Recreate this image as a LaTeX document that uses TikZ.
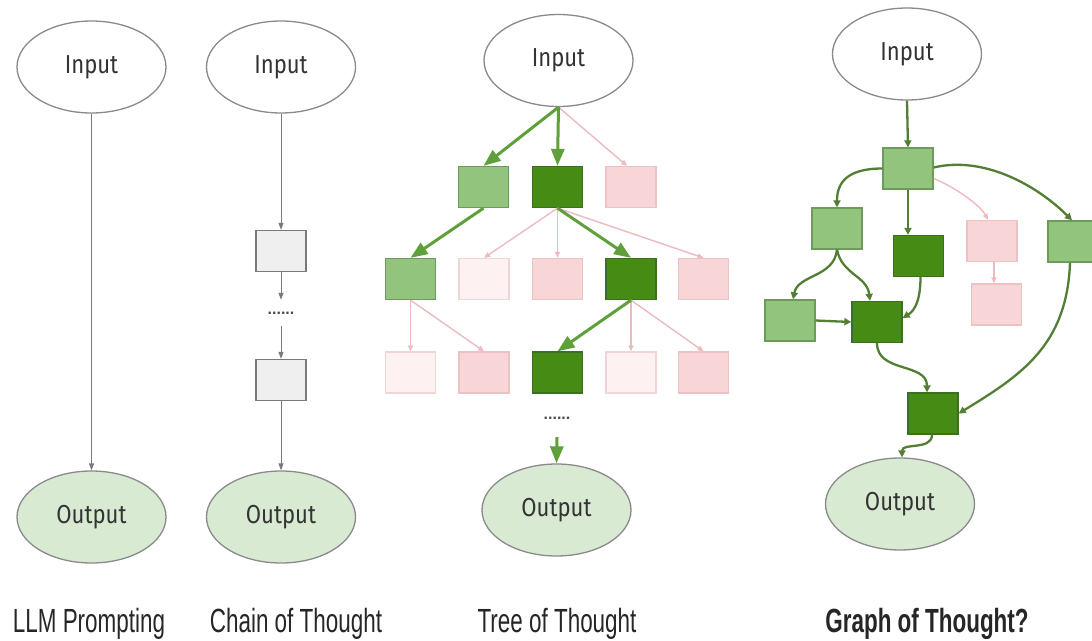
\documentclass[tikz,border=0pt]{standalone}
\usepackage{fontspec}
\setmainfont{Liberation Sans}
\newfontfamily\nodefont[FakeStretch=0.85]{Fira Sans}
\newfontfamily\capfont[FakeStretch=0.67]{Liberation Sans}
\usetikzlibrary{shapes.geometric,arrows.meta,calc}

\definecolor{lgfill}{HTML}{93C47D}
\definecolor{lgdraw}{HTML}{6E9A5C}
\definecolor{dgfill}{HTML}{468B14}
\definecolor{dgdraw}{HTML}{3A7020}
\definecolor{pkfill}{HTML}{F8D5D7}
\definecolor{pkdraw}{HTML}{EDC2C5}
\definecolor{vpfill}{HTML}{FDF1F1}
\definecolor{vpdraw}{HTML}{F1D4D5}
\definecolor{grfill}{HTML}{EFEFEF}
\definecolor{grdraw}{HTML}{7A7A7A}
\definecolor{outfill}{HTML}{D9EAD3}
\definecolor{ringgray}{HTML}{8A8A8A}
\definecolor{treegreen}{HTML}{5FA03A}
\definecolor{graphgreen}{HTML}{527F33}
\definecolor{pinkline}{HTML}{EDBBBF}

\tikzset{
  ellin/.style={ellipse, draw=ringgray, line width=1.3pt, fill=white,
    minimum width=149pt, minimum height=92pt, inner sep=0pt,
    font=\nodefont\fontsize{26}{30}\selectfont, text=black!80},
  ellout/.style={ellin, fill=outfill},
  thought/.style={rectangle, minimum width=50pt, minimum height=41pt,
    line width=1.3pt, inner sep=0pt},
  tlight/.style={thought, fill=lgfill, draw=lgdraw},
  tdark/.style={thought, fill=dgfill, draw=dgdraw},
  tpink/.style={thought, fill=pkfill, draw=pkdraw},
  tpale/.style={thought, fill=vpfill, draw=vpdraw},
  tgrey/.style={thought, fill=grfill, draw=grdraw},
  ellipsis/.style={inner sep=0pt, text=black!70,
    font=\bfseries\fontsize{16}{16}\selectfont},
  greyarrow/.style={draw=grdraw, line width=1pt,
    -{Triangle[length=7pt,width=5pt]}},
  treewin/.style={draw=treegreen, line width=3pt,
    -{Triangle[length=17pt,width=13pt]}},
  treeprune/.style={draw=pinkline, line width=1.4pt,
    -{Triangle[length=6pt,width=5pt]}},
  graphlink/.style={draw=graphgreen, line width=2.3pt,
    -{Triangle[length=7pt,width=7pt]}},
  caption/.style={font=\capfont\fontsize{33.5}{36}\selectfont, text=black!85,
    inner sep=0pt, anchor=base},
}

\begin{document}
\begin{tikzpicture}[x=1pt, y=-1pt]
\clip (0,0) rectangle (1092,640);
\fill[white] (0,0) rectangle (1092,640);

% ---- plain prompting
\node[ellin]  (in1)  at (91.5,67)  {Input};
\node[ellout] (out1) at (91.5,517) {Output};
\draw[greyarrow] (in1.south) -- (out1.north);

% ---- chain of thought
\node[ellin]  (in2)  at (281,67)  {Input};
\node[tgrey]  (c1)   at (281,251) {};
\node[ellipsis, minimum height=26pt] (cdots) at (281,313) {......};
\node[tgrey]  (c2)   at (281,380) {};
\node[ellout] (out2) at (281,517) {Output};
\draw[greyarrow] (in2.south) -- (c1.north);
\draw[greyarrow] (c1.south) -- (cdots.north);
\draw[greyarrow] (cdots.south) -- (c2.north);
\draw[greyarrow] (c2.south) -- (out2.north);

% ---- tree of thought
\node[ellin] (tin) at (558.5,60.5) {Input};
\node[tlight] (A)  at (483.5,187) {};
\node[tdark]  (B)  at (557.5,187) {};
\node[tpink]  (C)  at (631,187)   {};
\node[tlight] (D1) at (410.5,279) {};
\node[tpale]  (D2) at (484,279)   {};
\node[tpink]  (D3) at (557.5,279) {};
\node[tdark]  (D4) at (631,279)   {};
\node[tpink]  (D5) at (703.5,279) {};
\node[tpale]  (E1) at (410.5,372.5) {};
\node[tpink]  (E2) at (484,372.5)   {};
\node[tdark]  (E3) at (557.5,372.5) {};
\node[tpale]  (E4) at (631,372.5)   {};
\node[tpink]  (E5) at (703.5,372.5) {};
\node[ellipsis, minimum height=38pt] (tdots) at (557,418) {......};
\node[ellout] (tout) at (556.5,510) {Output};

\draw[treeprune] (tin.south) -- ($(C.north)+(-4,0)$);
\draw[treeprune] (B.south) -- (D2.north);
\draw[treeprune] (B.south) -- (D3.north);
\draw[treeprune] (B.south) -- (D5.north);
\draw[treeprune] (D1.south) -- (E1.north);
\draw[treeprune] (D1.south) -- (E2.north);
\draw[treeprune] (D4.south) -- (E4.north);
\draw[treeprune] (D4.south) -- (E5.north);
\draw[treewin] (tin.south) -- (A.north);
\draw[treewin] (tin.south) -- (B.north);
\draw[treewin] (A.south) -- (D1.north);
\draw[treewin] (B.south) -- (D4.north);
\draw[treewin] (D4.south) -- (E3.north);
\draw[treewin] (tdots.south) -- (tout.north);

% ---- graph of thought
\node[ellin] (gin) at (907,54) {Input};
\node[tlight] (G1) at (908,168.5)  {};
\node[tlight] (G2) at (837,228.5)  {};
\node[tdark]  (G3) at (918.5,256)  {};
\node[tpink]  (G4) at (992,241)    {};
\node[tlight] (G5) at (1073,241.5) {};
\node[tpink]  (G6) at (996.5,304.5) {};
\node[tlight] (G7) at (790,320.5)  {};
\node[tdark]  (G8) at (877,322)    {};
\node[tdark]  (G9) at (933,413.5)  {};
\node[ellout] (gout) at (900,504) {Output};

\draw[treeprune] ($(G1.east)+(0,10)$) .. controls +(20,8) and +(-8,-15) .. ($(G4.north)+(-4,0)$);
\draw[treeprune] ($(G4.south)+(2,0)$) -- ($(G6.north)+(-2.5,0)$);
\draw[graphlink] (gin.south) -- (G1.north);
\draw[graphlink] (G1.west) .. controls +(-35,0) and +(0,-25) .. (G2.north);
\draw[graphlink] (G1.south) -- (G1.south |- G3.north);
\draw[graphlink] ($(G1.east)+(0,-1)$) .. controls +(50,-12) and +(-35,-35) .. ($(G5.north)+(-1,0)$);
\draw[graphlink] (G2.south) .. controls +(-3,28) and +(5,-25) .. ($(G7.north)+(3,0)$);
\draw[graphlink] (G2.south) .. controls +(5,25) and +(-3,-25) .. ($(G8.north)+(-7,0)$);
\draw[graphlink] ($(G3.south)+(2,0)$) .. controls +(0,30) and +(8,-5) .. ($(G8.east)+(0,-4)$);
\draw[graphlink] (G7.east) -- (G8.west);
\draw[graphlink] (G8.south) .. controls +(0,30) and +(0,-30) .. ($(G9.north)+(-6,0)$);
\draw[graphlink] ($(G5.south)+(-3,0)$) .. controls +(-3,83) and +(62,-38) .. (G9.east);
\draw[graphlink] ($(G9.south)+(-1,0)$) .. controls +(0,16) and +(0,-15) .. ($(gout.north)+(2,0)$);

% ---- captions
\node[caption] (cap1) at (89,632)  {LLM Prompting};
\node[caption] (cap2) at (296,632) {Chain of Thought};
\node[caption] (cap3) at (557,632) {Tree of Thought};
\node[caption] (cap4) at (927,632) {\bfseries Graph of Thought?};
\end{tikzpicture}
\end{document}
